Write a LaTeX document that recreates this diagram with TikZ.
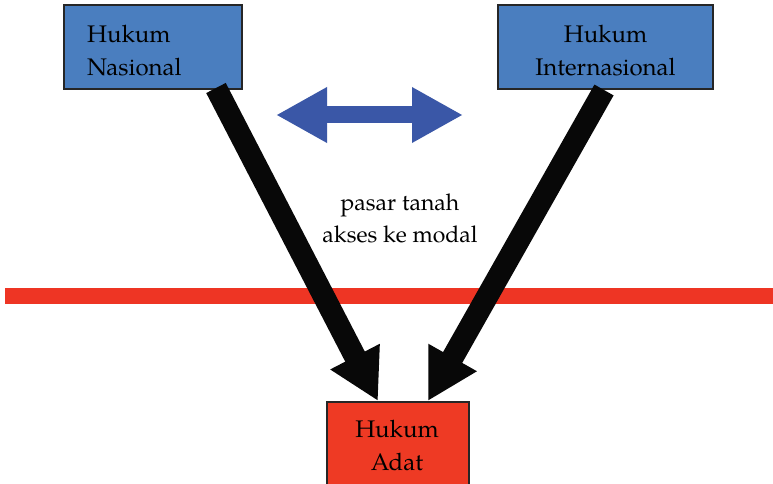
\documentclass[tikz,border=0pt]{standalone}
\usepackage{fontspec}
\setmainfont{TeX Gyre Pagella}
\usetikzlibrary{arrows.meta,calc}
\definecolor{boxblue}{RGB}{74,126,191}
\definecolor{dblblue}{RGB}{58,87,167}
\definecolor{lineRed}{RGB}{238,53,36}
\definecolor{adatRed}{RGB}{238,58,36}
\tikzset{
  lawbox/.style={draw=black!85, line width=1.6pt, fill=boxblue, minimum height=84pt, inner sep=0pt},
  adatbox/.style={draw=black!85, line width=1.6pt, fill=adatRed, minimum width=142pt,
    minimum height=90pt, inner sep=0pt},
  boxtext/.style={font=\fontsize{24}{33}\selectfont, inner sep=0pt},
  bigarrow/.style={line width=22pt, color={rgb,255:red,8;green,8;blue,8},
    -{Triangle[length=50pt,width=52pt]}},
  dblarrow/.style={line width=17pt, dblblue,
    {Triangle[length=51pt,width=52pt]}-{Triangle[length=51pt,width=52pt]}},
  divider/.style={line width=16pt, lineRed},
  midlabel/.style={font=\fontsize{23}{32}\selectfont, align=center}
}
\begin{document}
\begin{tikzpicture}[x=1pt,y=-1pt]
\clip (0,0) rectangle (773,484);
\fill[white] (0,0) rectangle (773,484);

% top boxes
\node[lawbox, minimum width=178pt] (nas) at (153,47) {};
\node[boxtext, anchor=north west, align=left] (nasT) at (87,25) {Hukum\\Nasional};
\node[lawbox, minimum width=215pt] (int) at (605.5,47) {};
\node[boxtext, anchor=north, align=center] (intT) at (605.5,25) {Hukum\\Internasional};

% bottom box, running past the lower edge
\node[adatbox, anchor=north west] (adat) at (326,401) {};
\node[boxtext, anchor=north, align=center] (adatT) at (397,420) {Hukum\\Adat};

% horizontal divider
\coordinate (divL) at (5,296);
\coordinate (divR) at (773,296);
\draw[divider] (divL) -- (divR);

% two-way arrow between the top boxes
\coordinate (dblL) at (276,115);
\coordinate (dblR) at (463,115);
\draw[dblarrow] (dblL) -- (dblR);

% label between the arrows
\node[midlabel] (lbl) at (400,218) {pasar tanah\\akses ke modal};

% arrows into the bottom box
\coordinate (nasOut) at (216,88);
\coordinate (intOut) at (604,90);
\coordinate (adatInL) at ($(adat.north west)+(52,0)$);
\coordinate (adatInR) at ($(adat.north west)+(102,0)$);
\draw[bigarrow] (nasOut) -- (adatInL);
\draw[bigarrow] (intOut) -- (adatInR);
\end{tikzpicture}
\end{document}
